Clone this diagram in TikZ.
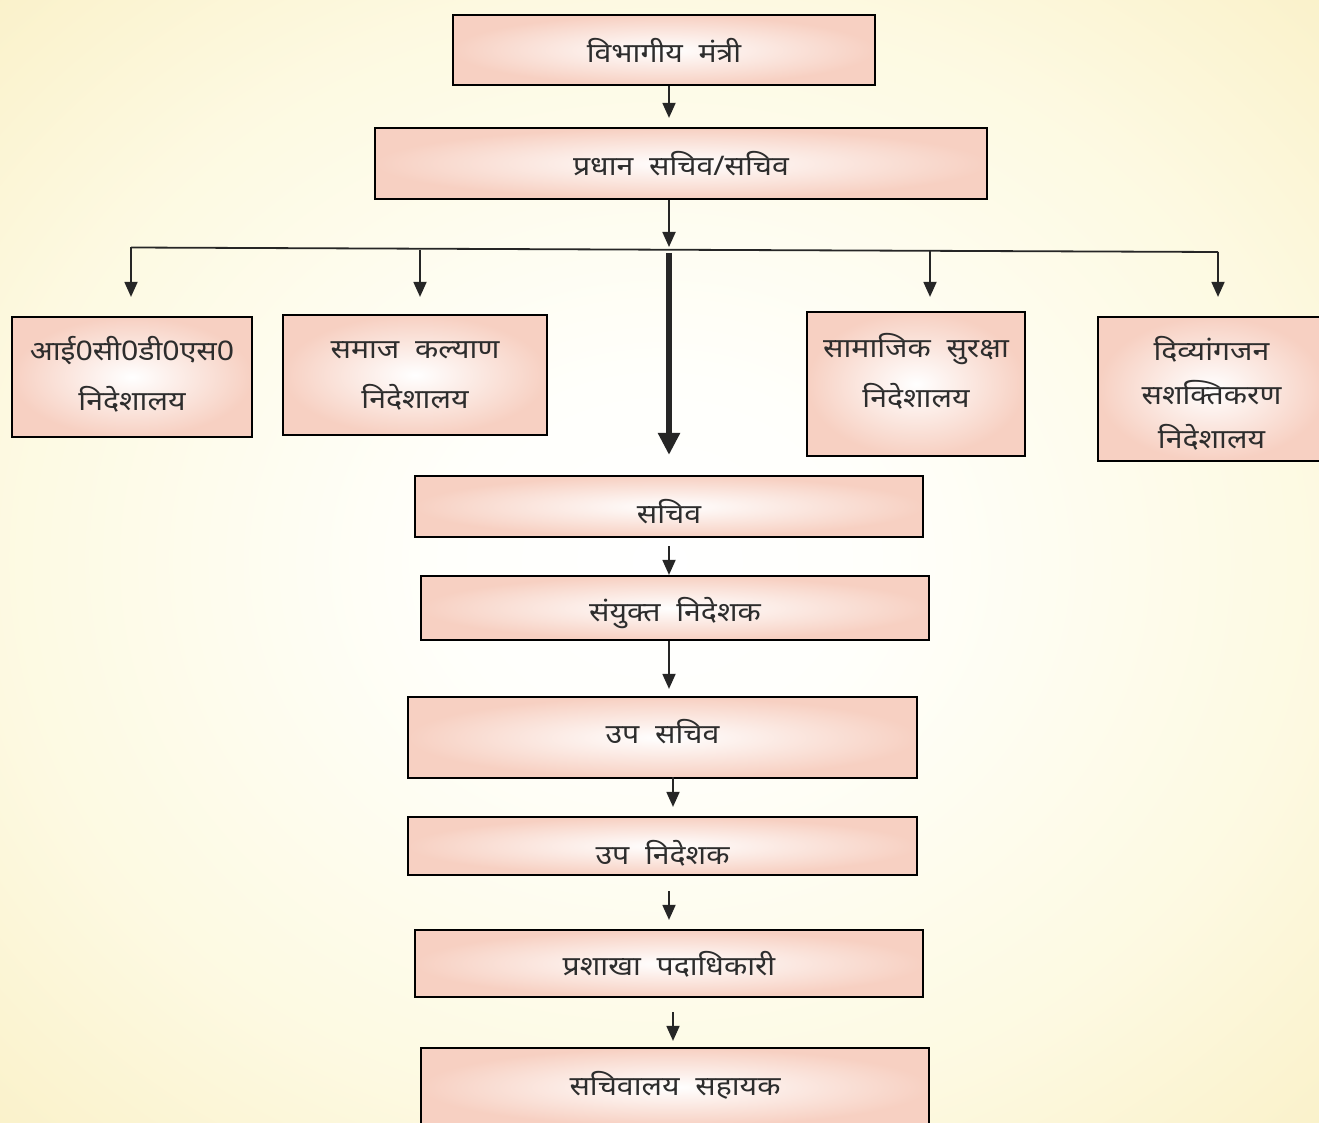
\documentclass[tikz,border=0pt]{standalone}
\usepackage{fontspec}
\newfontfamily\dev[Script=Devanagari,FakeStretch=1.12,WordSpace=2]{Noto Sans}
\usetikzlibrary{arrows.meta,calc}
\definecolor{boxpink}{RGB}{247,208,194}
\definecolor{linegray}{RGB}{38,38,38}
\definecolor{textgray}{RGB}{45,45,45}
\pgfdeclareradialshading{bgshade}{\pgfpoint{0bp}{0bp}}{rgb(0bp)=(1,1,1); rgb(8bp)=(1,1,0.985); rgb(25bp)=(0.992,0.978,0.885); rgb(36bp)=(0.98,0.945,0.79); rgb(50bp)=(0.98,0.945,0.79)}
\newcommand{\tsh}[2]{\raisebox{#1}[\height][\depth]{#2}}
\begin{document}
\begin{tikzpicture}[x=1pt,y=-1pt,
  box/.style={draw=black, line width=2.2pt, shade, inner color=white, outer color=boxpink,
    inner sep=0pt, text=textgray, align=center, font=\dev\fontsize{27}{30}\selectfont},
  twoline/.style={font=\dev\fontsize{27}{50}\selectfont},
  threeline/.style={font=\dev\fontsize{27}{44}\selectfont},
  arr/.style={draw=linegray, line width=1.8pt, -{Triangle[length=15pt,width=13pt]}},
  busline/.style={draw=linegray, line width=1.8pt},
  bigarr/.style={draw=linegray, line width=6.5pt, -{Triangle[length=22pt,width=21pt]}},
]
\useasboundingbox (0,0) rectangle (1319,1123);
\clip (0,0) rectangle (1319,1123);
\shade[shading=bgshade] (0,0) rectangle (1319,1123);

% boxes
\node[box, minimum width=422pt, minimum height=70pt] (mantri) at (664,50) {विभागीय मंत्री};
\node[box, minimum width=612pt, minimum height=71pt] (pradhan) at (681,163.5) {प्रधान सचिव/सचिव};
\node[box, twoline, minimum width=240pt, minimum height=120pt] (icds) at (132,377) {\tsh{3pt}{आई0सी0डी0एस0}\\\tsh{3pt}{निदेशालय}};
\node[box, twoline, minimum width=264pt, minimum height=120pt] (samaj) at (415,375) {\tsh{-1pt}{समाज कल्याण}\\\tsh{-1pt}{निदेशालय}};
\node[box, twoline, minimum width=218pt, minimum height=144pt] (suraksha) at (916,384) {\tsh{13pt}{सामाजिक सुरक्षा}\\\tsh{13pt}{निदेशालय}};
\node[box, threeline, minimum width=227pt, minimum height=144pt] (divyang) at (1211.5,389) {\tsh{-4pt}{दिव्यांगजन}\\\tsh{-4pt}{सशक्तिकरण}\\\tsh{-4pt}{निदेशालय}};
\node[box, minimum width=508pt, minimum height=61pt] (sachiv) at (669,506.5) {\tsh{-5pt}{सचिव}};
\node[box, minimum width=508pt, minimum height=64pt] (sanyukt) at (675,608) {\tsh{-5pt}{संयुक्त निदेशक}};
\node[box, minimum width=509pt, minimum height=81pt] (upsachiv) at (662.5,737.5) {\tsh{6pt}{उप सचिव}};
\node[box, minimum width=509pt, minimum height=58pt] (upnideshak) at (662.5,846) {\tsh{-7pt}{उप निदेशक}};
\node[box, minimum width=508pt, minimum height=67pt] (prashakha) at (669,963.5) {\tsh{-1pt}{प्रशाखा पदाधिकारी}};
\node[box, minimum width=508pt, minimum height=78pt] (sachivalay) at (675,1087) {\tsh{2pt}{सचिवालय सहायक}};

% helper columns and bus
\coordinate (cA) at (669,0);
\coordinate (cB) at (673,0);
\coordinate (busL) at (131,247.5);
\coordinate (busR) at (1218,252);
\coordinate (busM) at (669,250);
\coordinate (b2) at (420,250);
\coordinate (b3) at (930,251.5);

% connectors
\draw[arr, shorten >=9pt] (mantri.south -| cA) -- (pradhan.north -| cA);
\draw[arr, shorten >=3pt] (pradhan.south -| cA) -- (busM);
\draw[busline] (busL) -- (busR);
\draw[arr, shorten >=19pt] (busL) -- (busL |- icds.north);
\draw[arr, shorten >=17pt] (b2) -- (b2 |- samaj.north);
\draw[arr, shorten >=14pt] (b3) -- (b3 |- suraksha.north);
\draw[arr, shorten >=19pt] (busR) -- (busR |- divyang.north);
\draw[bigarr, shorten <=3pt, shorten >=20pt] (busM) -- (sachiv.north -| cA);
\draw[arr, shorten <=8pt] (sachiv.south -| cA) -- (sanyukt.north -| cA);
\draw[arr, shorten >=7pt] (sanyukt.south -| cA) -- (upsachiv.north -| cA);
\draw[arr, shorten <=-2pt, shorten >=9pt] (upsachiv.south -| cB) -- (upnideshak.north -| cB);
\draw[arr, shorten <=15pt, shorten >=9pt] (upnideshak.south -| cA) -- (prashakha.north -| cA);
\draw[arr, shorten <=14pt, shorten >=6pt] (prashakha.south -| cB) -- (sachivalay.north -| cB);
\end{tikzpicture}
\end{document}
